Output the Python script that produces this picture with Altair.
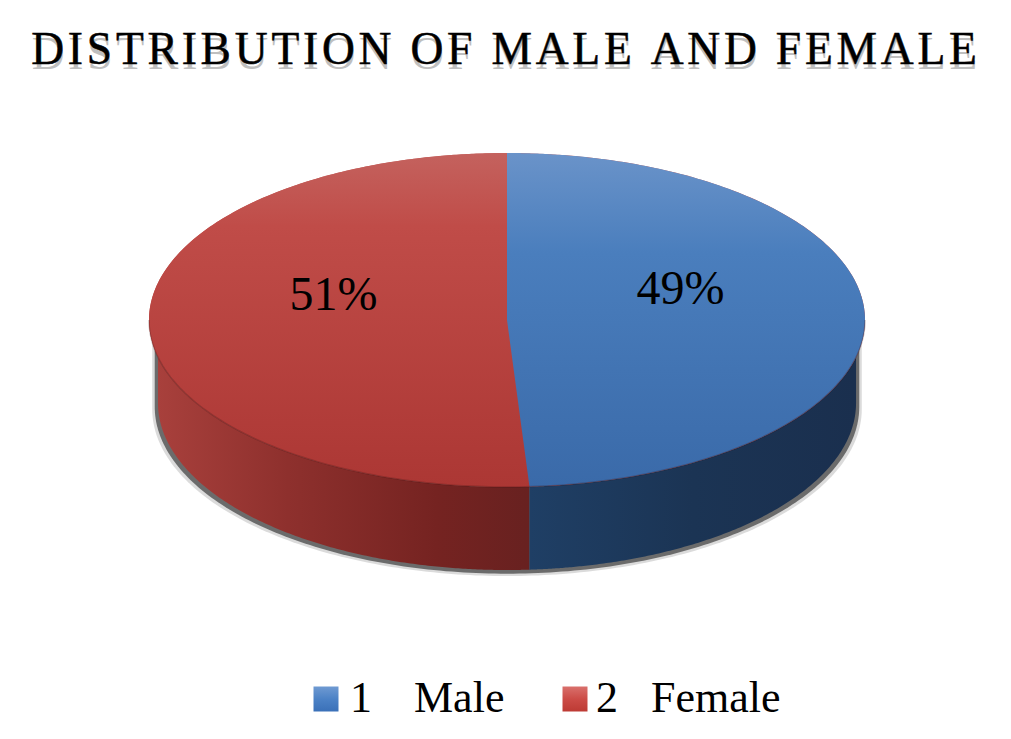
import math
import altair as alt
import pandas as pd

TITLE = "DISTRIBUTION OF MALE AND FEMALE"
categories = ["Male", "Female"]
keys = ["1", "2"]
shares = [49, 51]
labels = ["49%", "51%"]

# layout (page pixels)
CX, CY, RX, RY, DEPTH = 507, 320, 358, 167, 83
W, H = 995, 723
OX, OY = 8, 8
SIDE = 0.975
x_dom = [(OX - CX) / RX, (OX + W - CX) / RX]
y_dom = [(CY - (OY + H)) / RY, (CY - OY) / RY]
d = DEPTH / RY

split = 2 * math.pi * shares[0] / sum(shares)
xb, yb = math.sin(split), math.cos(split)
N = 180


def ell(x):
    return math.sqrt(max(0.0, 1 - x * x))


def xs(a, b, n=N):
    out = []
    for i in range(n + 1):
        t = math.pi * i / n
        out.append(a + (b - a) * (1 - math.cos(t)) / 2)
    return out


def div_y(x):
    return yb * x / xb if xb else 0


blue_top, red_top, blue_side, red_side, rim, base = [], [], [], [], [], []
for x in xs(0, 1):
    low = div_y(x) if x < xb else -ell(x)
    blue_top.append({"x": x, "y": ell(x), "y2": low})
for x in xs(-1, xb):
    up = ell(x) if x <= 0 else div_y(x)
    red_top.append({"x": x, "y": up, "y2": -ell(x)})
for x in xs(-1, 1):
    base.append({"x": x, "y": ell(x), "y2": -ell(x)})
    rim.append({"x": x, "y": -ell(x)})
for x in xs(xb, SIDE):
    blue_side.append({"x": x, "y": -ell(x), "y2": -ell(x / SIDE) - d})
for x in xs(-SIDE, xb):
    red_side.append({"x": x, "y": -ell(x), "y2": -ell(x / SIDE) - d})


def shadow(rx, drop, top):
    rows = []
    for u in xs(-1, 1):
        rows.append({"x": u * rx, "y": top, "y2": -ell(u) - d - drop})
    return rows


def grad(stops, horizontal=False):
    return alt.Gradient(
        gradient="linear",
        stops=[alt.GradientStop(color=c, offset=o) for o, c in stops],
        x1=0, y1=0,
        x2=1 if horizontal else 0,
        y2=0 if horizontal else 1,
    )


X = alt.X("x:Q", scale=alt.Scale(domain=x_dom, nice=False, zero=False), axis=None)
Y = alt.Y("y:Q", scale=alt.Scale(domain=y_dom, nice=False, zero=False), axis=None)


def area(rows, fill, opacity=1.0):
    return alt.Chart(pd.DataFrame(rows)).mark_area(
        color=fill, opacity=opacity, interpolate="linear", clip=False
    ).encode(x=X, y=Y, y2="y2:Q")


red_face = grad([(0, "#c4625e"), (0.22, "#c04c48"), (1, "#ac3734")])
layers = [
    area(shadow(SIDE + 0.016, 0.036, -0.14), "#bdbdbd", 0.55),
    area(shadow(SIDE + 0.009, 0.022, -0.14), "#4f4f4f", 0.8),
    area(red_side, grad([(0, "#a8403c"), (0.35, "#8e302d"), (0.75, "#752321"), (1, "#682120")], True)),
    area(blue_side, grad([(0, "#1f3f65"), (0.5, "#1b3454"), (1, "#1a2f4e")], True)),
    area(base, red_face),
    area(red_top, red_face),
    area(blue_top, grad([(0, "#6a93c9"), (0.3, "#4a7ebd"), (1, "#3a6aa9")])),
    alt.Chart(pd.DataFrame(rim)).mark_line(color="#3a1010", opacity=0.25, strokeWidth=1.5).encode(x=X, y=Y),
]

# percentage labels placed from the slices' mid angles
rows = []
acc = 0
for s, lab in zip(shares, labels):
    mid = 2 * math.pi * (acc + s / 2) / sum(shares)
    rows.append({"x": 0.485 * math.sin(mid), "y": 0.485 * math.cos(mid), "t": lab})
    acc += s
layers.append(
    alt.Chart(pd.DataFrame(rows)).mark_text(
        font="Liberation Serif", fontSize=48, color="#000000", baseline="middle", dy=-27
    ).encode(x=X, y=Y, text="t:N")
)

# legend
FONT = dict(font="Liberation Serif", fontSize=44, color="#000000", align="left", baseline="alphabetic")
key_px = [326, 575]
key_num_px = [350, 596]
key_name_px = [414, 651]
key_fills = [
    grad([(0, "#6f9ad2"), (0.5, "#4c82c6"), (1, "#3a70b8")]),
    grad([(0, "#d9706c"), (0.5, "#cc4c47"), (1, "#bd3a34")]),
]
for i in range(2):
    layers.append(
        alt.Chart(alt.Data(values=[{"k": categories[i]}])).mark_square(size=625, fill=key_fills[i], opacity=1)
        .encode(x=alt.value(key_px[i] - OX), y=alt.value(699 - OY))
    )
    layers.append(
        alt.Chart(pd.DataFrame({"t": [keys[i]]})).mark_text(**FONT)
        .encode(x=alt.value(key_num_px[i] - OX), y=alt.value(712 - OY), text="t:N")
    )
    layers.append(
        alt.Chart(pd.DataFrame({"t": [categories[i]]})).mark_text(**FONT)
        .encode(x=alt.value(key_name_px[i] - OX), y=alt.value(712 - OY), text="t:N")
    )

spaced = "\u200a".join(TITLE)
title_rows = pd.DataFrame({"t": [spaced]})
TFONT = dict(font="Liberation Serif", fontSize=45.5, align="center", baseline="alphabetic")
layers.append(
    alt.Chart(title_rows).mark_text(color="#b5b5b5", opacity=0.85, **TFONT)
    .encode(x=alt.value(504.5 - OX), y=alt.value(69 - OY), text="t:N")
)
layers.append(
    alt.Chart(title_rows).mark_text(color="#000000", stroke="#000000", strokeWidth=0.5, **TFONT)
    .encode(x=alt.value(504 - OX), y=alt.value(64 - OY), text="t:N")
)

chart = alt.layer(*layers).properties(
    width=W, height=H,
    padding=0,
    autosize=alt.AutoSizeParams(type="none"),
    background="#ffffff",
).configure_view(stroke=None)

chart.save("out.html", embed_options={"renderer": "svg", "actions": False})
